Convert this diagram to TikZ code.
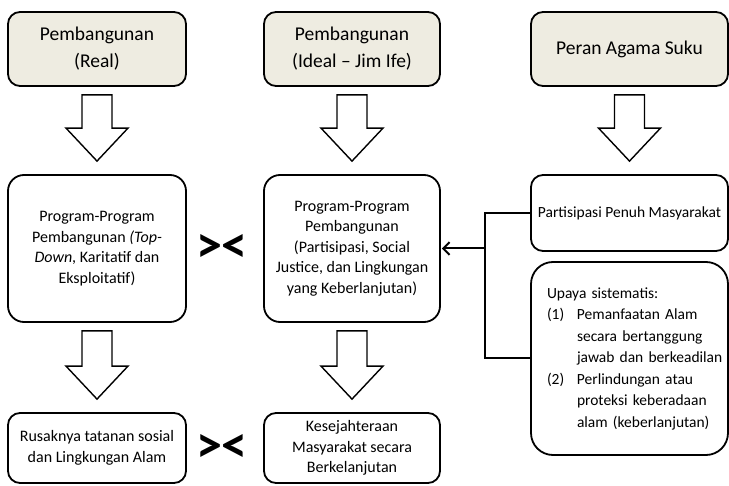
\documentclass[tikz,border=0pt]{standalone}
\usepackage{fontspec}
\setmainfont{Carlito}
\usetikzlibrary{arrows.meta,calc}
\definecolor{paper}{HTML}{EEECE1}
\tikzset{
 topbox/.style={draw,line width=1.8pt,rounded corners=12pt,fill=paper,align=center,
             minimum width=178pt,minimum height=74pt,font=\fontsize{19.5}{27}\selectfont},
 box/.style={draw,line width=1.8pt,rounded corners=16pt,fill=white,align=center,
             minimum width=178pt,font=\fontsize{16}{20.5}\selectfont},
 hollow/.style={draw,line width=1.4pt,fill=white,line join=miter},
 link/.style={line width=2pt},
 arrow/.style={link,-{Straight Barb[length=2.2mm,width=4.5mm]},shorten >=1pt},
 versus/.style={font=\bfseries\fontsize{52}{52}\selectfont,inner sep=0pt}
}
% hollow block arrow from the bottom of one box to the top of the next
\newcommand{\bigdown}[2]{%
 \draw[hollow] let \p1=(#1.south), \p2=(#2.north) in
   (\x1-15pt,\y1-8pt) -- (\x1+15pt,\y1-8pt) -- (\x1+15pt,\y2+46pt)
   -- (\x1+31pt,\y2+46pt) -- (\x1,\y2+13pt) -- (\x1-31pt,\y2+46pt)
   -- (\x1-15pt,\y2+46pt) -- cycle;}

\begin{document}
\begin{tikzpicture}[x=1pt,y=-1pt]
\useasboundingbox (0,0) rectangle (729,486);
\node[topbox] (real) at (97,49) {Pembangunan\\(Real)};
\node[topbox,minimum width=176pt] (ideal) at (352,49) {Pembangunan\\(Ideal -- Jim Ife)};
\node[topbox,minimum width=197pt] (suku) at (629.5,49) {Peran Agama Suku};

\node[box,minimum height=147pt] (progreal) at (97,248.5)
  {Program-Program\\Pembangunan \textit{(Top-}\\\textit{Down}, Karitatif dan\\Eksploitatif)};
\node[box,minimum width=176pt,minimum height=147pt] (progideal) at (352,248.5)
  {Program-Program\\Pembangunan\\(Partisipasi, Social\\Justice, dan Lingkungan\\yang Keberlanjutan)};
\node[box,minimum width=197pt,minimum height=76pt,rounded corners=12pt,
      font=\fontsize{15.5}{20}\selectfont] (partisipasi) at (629.5,213)
  {Partisipasi Penuh Masyarakat};
\node[box,minimum width=197pt,minimum height=193pt,rounded corners=22pt,align=left,text width=165pt,
      font=\fontsize{15.5}{21.5}\selectfont] (upaya) at (629.5,358.5)
  {\begin{tabular}{@{}p{30pt}@{}l@{}}
   \multicolumn{2}{@{}l@{}}{Upaya sistematis:}\\
   (1) & Pemanfaatan Alam\\
       & secara bertanggung\\
       & jawab dan berkeadilan\\
   (2) & Perlindungan atau\\
       & proteksi keberadaan\\
       & alam (keberlanjutan)
   \end{tabular}};

\node[box,minimum height=70pt,rounded corners=12pt] (rusak) at (97,448)
  {Rusaknya tatanan sosial\\dan Lingkungan Alam};
\node[box,minimum width=176pt,minimum height=70pt,rounded corners=12pt] (sejahtera) at (352,448)
  {Kesejahteraan\\Masyarakat secara\\Berkelanjutan};

\node[versus] (vs1) at (222,248) {><};
\node[versus] (vs2) at (222,448) {><};

\bigdown{real}{progreal}
\bigdown{ideal}{progideal}
\bigdown{suku}{partisipasi}
\bigdown{progreal}{rusak}
\bigdown{progideal}{sejahtera}

\coordinate (knot) at (485,248);
\draw[link] (partisipasi.west) -| (knot |- upaya.west) -- (upaya.west);
\draw[arrow] (knot |- progideal.east) -- (progideal.east);
\end{tikzpicture}
\end{document}
